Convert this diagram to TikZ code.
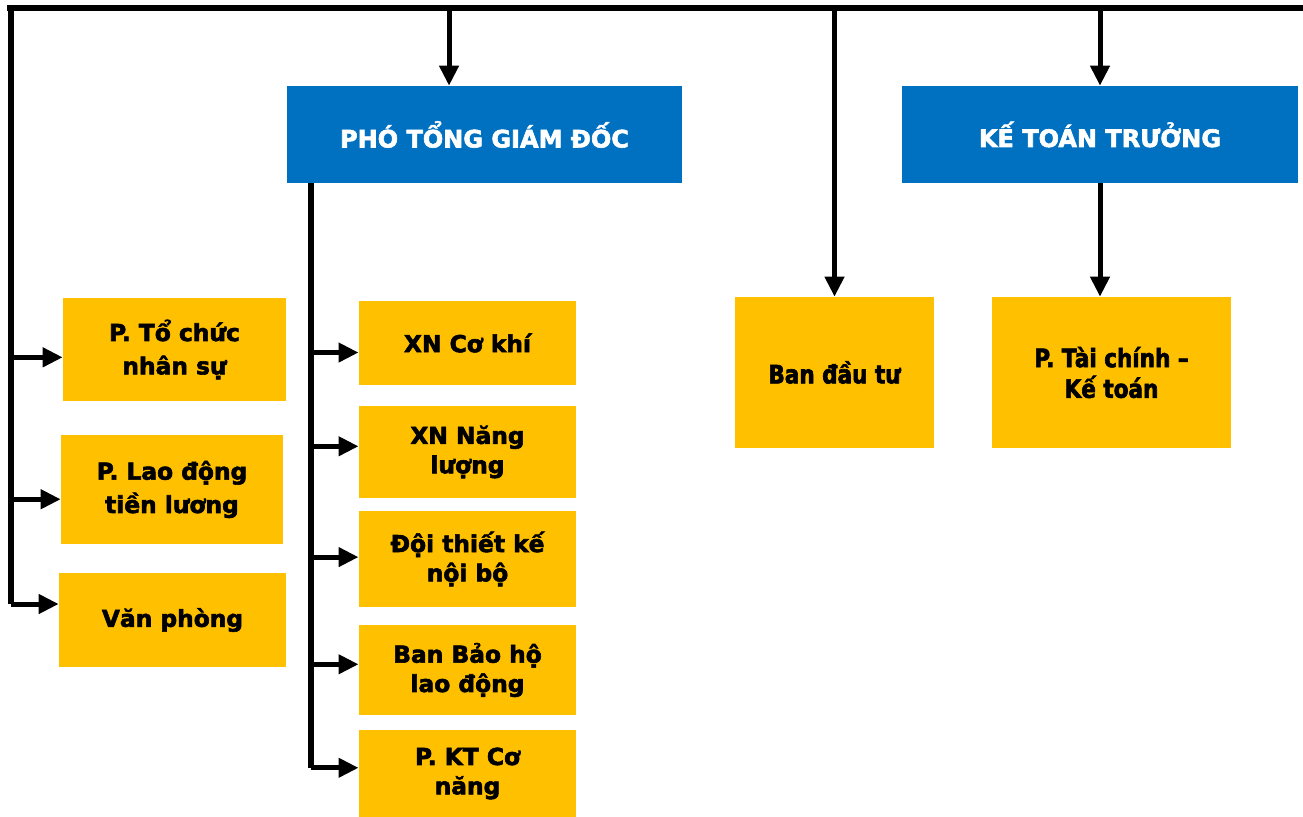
\documentclass[tikz,border=0pt]{standalone}
\usepackage{fontspec}
\setmainfont{DejaVu Sans}[BoldFeatures={FakeBold=2.5}]
\newfontfamily\narrowfont{DejaVu Sans}[BoldFeatures={FakeStretch=0.85,FakeBold=2.5}]
\usetikzlibrary{arrows.meta}
\definecolor{headblue}{RGB}{0,112,192}
\definecolor{unitgold}{RGB}{255,192,0}

\begin{document}
\begin{tikzpicture}[x=0.75pt,y=0.75pt,yscale=-1,
  head/.style={fill=headblue,text=white,inner sep=0pt,
    font=\bfseries\fontsize{18}{22}\selectfont,minimum width=296.5pt,minimum height=72.75pt},
  unit/.style={fill=unitgold,inner sep=0pt,align=center,
    font=\bfseries\fontsize{17.5}{25}\selectfont},
  subunit/.style={unit,font=\bfseries\fontsize{17.5}{22}\selectfont,
    minimum width=163pt},
  sideunit/.style={unit,font=\narrowfont\bfseries\fontsize{19}{23}\selectfont,
    minimum height=113.25pt},
  bus/.style={line width=4.5pt},
  link/.style={line width=3.75pt,-{Triangle[length=15pt,width=14pt]}}
]
\path[use as bounding box] (0,0) rectangle (1303,817);

% heads
\node[head] (pho) at (484.5,134.5) {PHÓ TỔNG GIÁM ĐỐC};
\node[head] (ktt) at (1100,134.5) {KẾ TOÁN TRƯỞNG};

% left column
\node[unit,minimum width=167.25pt,minimum height=77.25pt] (tcns) at (174.5,349.5) {P. Tổ chức\\nhân sự};
\node[unit,minimum width=166.5pt,minimum height=81.75pt] (ldtl) at (172,489.5) {P. Lao động\\tiền lương};
\node[unit,minimum width=170.25pt,minimum height=70.5pt] (vp) at (172.5,620) {Văn phòng};

% units under pho
\node[subunit,minimum height=63pt] (xnck) at (467.5,343) {XN Cơ khí};
\node[subunit,minimum height=69pt] (xnnl) at (467.5,452) {XN Năng\\lượng};
\node[subunit,minimum height=72pt] (dtk) at (467.5,559) {Đội thiết kế\\nội bộ};
\node[subunit,minimum height=67.5pt] (bbh) at (467.5,670) {Ban Bảo hộ\\lao động};
\node[subunit,minimum height=65.25pt] (pkt) at (467.5,773.5) {P. KT Cơ\\năng};

% right side
\node[sideunit,minimum width=149.25pt] (bdt) at (834.5,372.5) {Ban đầu tư};
\node[sideunit,minimum width=179.25pt] (ptc) at (1111.5,372.5) {P. Tài chính –\\Kế toán};

% top bus
\coordinate (topL) at (7,8);
\coordinate (topR) at (1303,8);
\draw[bus] (topL) -- (topR);

% left spine
\coordinate (spineL) at (10.5,8);
\draw[bus] (spineL) -- (spineL |- vp.172);
\foreach \n/\a in {tcns/184,ldtl/185,vp/172}
  \draw[link] (spineL |- \n.\a) -- (\n.\a);

% down from the top bus
\coordinate (phoIn) at ([xshift=-26.6pt]pho.north);
\draw[link] (phoIn |- topL) -- (phoIn);
\draw[link] (bdt.north |- topL) -- (bdt.north);
\draw[link] (ktt.north |- topL) -- (ktt.north);
\draw[link] (ktt.south) -- (ktt.south |- ptc.north);

% spine under pho
\coordinate (spineM) at ([xshift=18pt]pho.south west);
\draw[bus] (spineM) -- (spineM |- pkt.177);
\foreach \n/\a in {xnck/185,xnnl/177,dtk/179,bbh/177,pkt/177}
  \draw[link] (spineM |- \n.\a) -- (\n.\a);

\end{tikzpicture}
\end{document}
